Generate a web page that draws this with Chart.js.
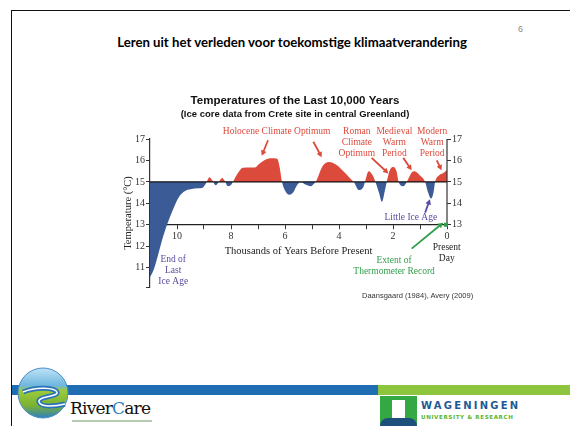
<!DOCTYPE html>
<html>
<head>
<meta charset="utf-8">
<script src="https://cdn.jsdelivr.net/npm/chart.js@4.4.0/dist/chart.umd.min.js"></script>
<style>
  body { margin: 0; width: 570px; height: 426px; background: #fff; position: relative; overflow: hidden; font-family: "Liberation Sans", Arial, sans-serif; }
  .abs { position: absolute; }
</style>
</head>
<body>
<div class="abs" style="left:11px;top:10px;width:570px;height:430px;border-left:1.5px solid #111;border-top:1.5px solid #111;"></div>
<div class="abs" style="left:0;width:584px;top:34px;text-align:center;font:bold 13.2px Lato;color:#000;">Leren uit het verleden voor toekomstige klimaatverandering</div>
<div class="abs" style="left:518px;top:24px;font:9px 'Liberation Sans';color:#888;">6</div>

<div class="abs" style="left:100px;top:88px;width:390px;height:212px;">
  <canvas id="tempChart"></canvas>
</div>
<div class="abs" style="left:362px;top:291px;font:7.5px 'Liberation Sans';color:#333;">Daansgaard (1984), Avery (2009)</div>

<!-- footer -->
<div class="abs" style="left:12px;top:385px;width:366px;height:10px;background:#1f6db3;"></div>
<div class="abs" style="left:378px;top:385px;width:192px;height:10px;background:#8dc53e;"></div>
<svg class="abs" style="left:17px;top:362px" width="54" height="60" viewBox="0 0 54 60">
  <defs>
    <linearGradient id="rc" x1="0" y1="0" x2="0" y2="1">
      <stop offset="0" stop-color="#bfe3f5"/>
      <stop offset="0.35" stop-color="#6fb6e0"/>
      <stop offset="0.45" stop-color="#9ccb3b"/>
      <stop offset="0.75" stop-color="#7ab232"/>
      <stop offset="1" stop-color="#2f7fc0"/>
    </linearGradient>
  </defs>
  <circle cx="26" cy="31" r="25" fill="url(#rc)" stroke="#4a8fc8" stroke-width="1"/>
  <path d="M6 30 C20 24 38 26 40 30 C42 35 20 34 22 40 C24 46 40 44 48 42" fill="none" stroke="#2a73b8" stroke-width="5"/>
  <path d="M6 30 C20 24 38 26 40 30 C42 35 20 34 22 40 C24 46 40 44 48 42" fill="none" stroke="#fff" stroke-width="1.5"/>
</svg>
<div class="abs" style="left:68px;top:395px;width:90px;height:31px;background:#fff;"></div>
<div class="abs" style="left:70px;top:398px;font:17px 'DejaVu Serif';color:#111;letter-spacing:-0.8px;">River<span style="color:#2f7fc0">C</span>are</div>
<div class="abs" style="left:72px;top:420px;width:80px;height:2px;background:#b5ccb0;"></div>

<div class="abs" style="left:380px;top:396px;width:37px;height:30px;background:#34a843;"></div>
<div class="abs" style="left:392px;top:400px;width:13px;height:18px;background:#fff;"></div>
<div class="abs" style="left:380px;top:418px;width:37px;height:8px;background:#1d4f7c;border-radius:8px 8px 0 0;"></div>
<div class="abs" style="left:421px;top:400px;font:bold 10px 'DejaVu Sans';letter-spacing:2.2px;color:#1f5a94;">WAGENINGEN</div>
<div class="abs" style="left:421px;top:414px;font:bold 5.6px 'DejaVu Sans';letter-spacing:0.6px;color:#5db531;">UNIVERSITY &amp; RESEARCH</div>

<script>
// thousands of years before present, temperature in degrees C
const years = [11.0, 10.85, 10.7, 10.55, 10.4, 10.25, 10.1, 9.9, 9.7, 9.5, 9.2, 9.05, 8.92, 8.8, 8.68, 8.57, 8.45, 8.33, 8.22, 8.12, 8.0, 7.93,
  7.75, 7.56, 7.3, 7.13, 6.95, 6.75, 6.5, 6.29, 6.2, 6.11, 6.0, 5.84, 5.7, 5.55, 5.42, 5.25, 5.05, 4.9, 4.86, 4.6, 4.37, 4.1, 3.8, 3.5, 3.45,
  3.27, 3.1, 3.04, 2.9, 2.75, 2.65, 2.52, 2.41, 2.3, 2.23, 2.1, 1.98, 1.87, 1.79, 1.61, 1.49, 1.3, 1.2, 1.0, 0.81, 0.7, 0.59, 0.5, 0.44,
  0.3, 0.15, 0.0];
const temps = [10.55, 10.95, 11.6, 12.3, 12.9, 13.4, 13.85, 14.35, 14.58, 14.66, 14.7, 14.73, 14.95, 15.22, 15.05, 14.84, 15.0, 15.18, 15.02, 14.8, 14.85, 15.0,
  15.4, 15.66, 15.67, 15.67, 15.85, 16.02, 16.1, 16.08, 15.7, 15.0, 14.6, 14.4, 14.5, 14.85, 14.98, 14.88, 14.8, 14.95, 15.0, 15.75, 15.93, 15.8, 15.45, 15.05, 15.0,
  14.62, 14.75, 15.0, 15.5, 15.3, 15.0, 14.5, 14.07, 14.6, 15.0, 15.6, 15.7, 15.5, 15.0, 14.8, 15.0, 15.45, 15.5, 15.3, 15.0, 14.5, 14.22, 14.5, 15.0,
  15.3, 15.4, 15.55];
const baseTemp = 15;
const xTicks = [10, 8, 6, 4, 2, 0];
const yTicksLeft = [11, 12, 13, 14, 15, 16, 17];
const yTicksRight = [13, 14, 15, 16, 17];

const RED = '#dc4a3c';
const BLUE = '#3b5b97';
const PURPLE = '#5a4aa0';
const GREEN = '#2f9e4a';
const SERIF = '"Liberation Serif", "Times New Roman", serif';

// annotation text anchored in data units (t, temp)
const notes = [
  { lines: ['Holocene Climate Optimum'], t: 6.31, T: 17.33, color: RED },
  { lines: ['Roman', 'Climate', 'Optimum'], t: 3.34, T: 17.33, color: RED },
  { lines: ['Medieval', 'Warm', 'Period'], t: 1.95, T: 17.33, color: RED },
  { lines: ['Modern', 'Warm', 'Period'], t: 0.55, T: 17.33, color: RED },
  { lines: ['Little Ice Age'], t: 1.34, T: 13.33, color: PURPLE },
  { lines: ['Present', 'Day'], t: 0.01, T: 11.95, color: '#222' },
  { lines: ['Extent of', 'Thermometer Record'], t: 1.96, T: 11.33, color: GREEN },
  { lines: ['End of', 'Last', 'Ice Age'], t: 10.14, T: 11.38, color: PURPLE }
];
const arrows = [
  { from: [6.63, 16.94], to: [6.86, 16.22], color: RED },
  { from: [4.95, 16.87], to: [4.64, 16.15], color: RED },
  { from: [2.79, 16.12], to: [2.17, 15.39], color: RED },
  { from: [1.62, 16.12], to: [1.31, 15.54], color: RED },
  { from: [0.38, 16.0], to: [0.20, 15.54], color: RED },
  { from: [0.81, 13.57], to: [0.63, 14.19], color: PURPLE },
  { from: [1.31, 11.89], to: [0.14, 13.1], color: GREEN }
];

function drawArrow(ctx, x1, y1, x2, y2, color) {
  const a = Math.atan2(y2 - y1, x2 - x1);
  const head = 6;
  ctx.strokeStyle = color;
  ctx.fillStyle = color;
  ctx.lineWidth = 1.8;
  ctx.beginPath();
  ctx.moveTo(x1, y1);
  ctx.lineTo(x2 - head * 0.8 * Math.cos(a), y2 - head * 0.8 * Math.sin(a));
  ctx.stroke();
  ctx.beginPath();
  ctx.moveTo(x2, y2);
  ctx.lineTo(x2 - head * Math.cos(a - 0.5), y2 - head * Math.sin(a - 0.5));
  ctx.lineTo(x2 - head * Math.cos(a + 0.5), y2 - head * Math.sin(a + 0.5));
  ctx.closePath();
  ctx.fill();
}

const notesPlugin = {
  id: 'notes',
  afterDraw(chart) {
    const { ctx, chartArea, scales: { x, y } } = chart;
    ctx.save();
    // right axis line only spans 13..17
    ctx.strokeStyle = '#333';
    ctx.lineWidth = 1.2;
    ctx.beginPath();
    ctx.moveTo(chartArea.right, y.getPixelForValue(17));
    ctx.lineTo(chartArea.right, y.getPixelForValue(13));
    ctx.stroke();

    ctx.font = '9.5px ' + SERIF;
    ctx.textAlign = 'center';
    ctx.textBaseline = 'middle';
    notes.forEach(n => {
      ctx.fillStyle = n.color;
      n.lines.forEach((s, i) => ctx.fillText(s, x.getPixelForValue(n.t), y.getPixelForValue(n.T) + i * 11));
    });
    arrows.forEach(a => drawArrow(ctx,
      x.getPixelForValue(a.from[0]), y.getPixelForValue(a.from[1]),
      x.getPixelForValue(a.to[0]), y.getPixelForValue(a.to[1]), a.color));
    // thermometer record marker
    ctx.fillStyle = GREEN;
    ctx.fillRect(x.getPixelForValue(0.04) - 2, y.getPixelForValue(13) - 2, 4, 4);
    ctx.restore();
  }
};

const ctx = document.getElementById('tempChart').getContext('2d');
new Chart(ctx, {
  type: 'line',
  data: {
    datasets: [{
      label: 'Temperature',
      data: years.map((t, i) => ({ x: t, y: temps[i] })),
      borderWidth: 0,
      borderColor: 'rgba(0,0,0,0)',
      pointRadius: 0,
      cubicInterpolationMode: 'monotone',
      fill: { target: { value: baseTemp }, above: RED, below: BLUE },
      order: 2
    }, {
      label: 'Baseline',
      data: [{ x: 11, y: baseTemp }, { x: 0, y: baseTemp }],
      borderColor: '#111',
      borderWidth: 1.3,
      pointRadius: 0,
      fill: false,
      order: 1
    }]
  },
  options: {
    responsive: true,
    maintainAspectRatio: false,
    animation: false,
    layout: { padding: { top: 6, bottom: 13, left: 0, right: 0 } },
    plugins: {
      legend: { display: false },
      tooltip: { enabled: false },
      title: {
        display: true,
        text: 'Temperatures of the Last 10,000 Years',
        color: '#111',
        font: { family: '"Liberation Sans", Arial, sans-serif', size: 11.5, weight: 'bold', lineHeight: 1.2 },
        padding: { top: 0, bottom: 0 }
      },
      subtitle: {
        display: true,
        text: '(Ice core data from Crete site in central Greenland)',
        color: '#111',
        font: { family: '"Liberation Sans", Arial, sans-serif', size: 9.5, weight: 'bold', lineHeight: 1.2 },
        padding: { top: 1, bottom: 18.8 }
      }
    },
    scales: {
      x: {
        type: 'linear',
        reverse: true,
        min: 0,
        max: 11,
        position: { y: 13 },
        afterBuildTicks: s => { s.ticks = [11, 10, 9, 8, 7, 6, 5, 4, 3, 2, 1, 0].map(v => ({ value: v })); },
        ticks: {
          autoSkip: false,
          maxRotation: 0,
          padding: 2,
          color: '#333',
          font: { family: SERIF, size: 10 },
          callback: v => xTicks.includes(v) ? v : ''
        },
        grid: {
          drawOnChartArea: false,
          tickLength: 4,
          color: c => c.tick && c.tick.value === 11 ? 'rgba(0,0,0,0)' : '#333'
        },
        border: { display: true, color: '#222', width: 1.2 },
        title: {
          display: true,
          text: 'Thousands of Years Before Present',
          color: '#222',
          font: { family: SERIF, size: 10.5 },
          padding: { top: 0, bottom: 0 }
        }
      },
      y: {
        position: 'left',
        min: 10.1,
        max: 17,
        afterFit: s => { s.width = 50; },
        ticks: {
          stepSize: 1,
          padding: 1,
          color: '#333',
          font: { family: SERIF, size: 10 },
          callback: v => yTicksLeft.includes(v) ? v : ''
        },
        grid: { drawOnChartArea: false, tickLength: 4, color: '#333' },
        border: { display: true, color: '#333', width: 1.2 },
        title: {
          display: true,
          text: 'Temperature (°C)',
          color: '#222',
          font: { family: SERIF, size: 10.5 },
          padding: { top: 22, bottom: 0 }
        }
      },
      y2: {
        position: 'right',
        min: 10.1,
        max: 17,
        afterFit: s => { s.width = 43; },
        ticks: {
          stepSize: 1,
          padding: 1,
          color: '#333',
          font: { family: SERIF, size: 10 },
          callback: v => yTicksRight.includes(v) ? v : ''
        },
        grid: {
          drawOnChartArea: false,
          tickLength: 4,
          color: c => c.tick && yTicksRight.includes(c.tick.value) ? '#333' : 'rgba(0,0,0,0)'
        },
        border: { display: false }
      }
    }
  },
  plugins: [notesPlugin]
});
</script>
</body>
</html>
